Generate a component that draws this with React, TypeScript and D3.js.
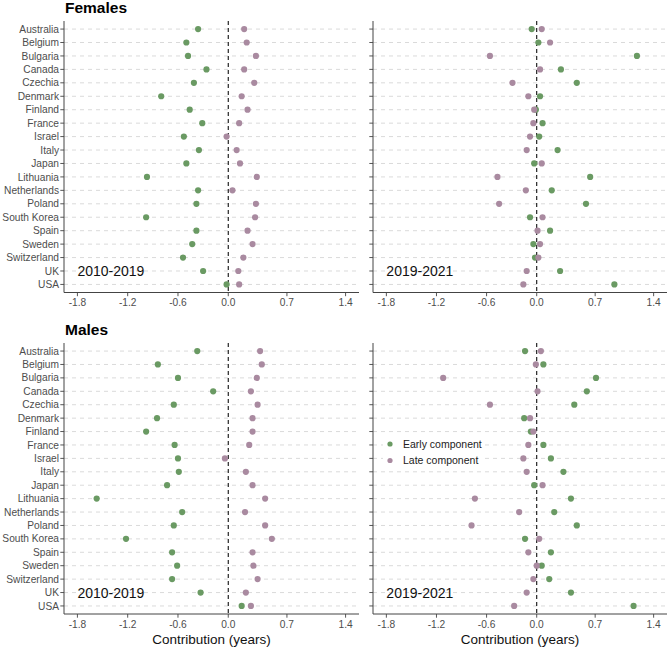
import React from 'react';
import * as d3 from 'd3';

const countries = [
  'Australia', 'Belgium', 'Bulgaria', 'Canada', 'Czechia', 'Denmark', 'Finland',
  'France', 'Israel', 'Italy', 'Japan', 'Lithuania', 'Netherlands', 'Poland',
  'South Korea', 'Spain', 'Sweden', 'Switzerland', 'UK', 'USA',
];

const xTicks = [-1.8, -1.2, -0.6, 0.0, 0.7, 1.4];
const xLimits: [number, number] = [-1.8, 1.4];

// Females
const femEarly1019 = [-0.36, -0.50, -0.48, -0.26, -0.41, -0.80, -0.46, -0.31, -0.53, -0.35, -0.50, -0.97, -0.36, -0.38, -0.98, -0.38, -0.43, -0.54, -0.30, -0.02];
const femLate1019 = [0.19, 0.22, 0.33, 0.19, 0.31, 0.16, 0.23, 0.13, -0.02, 0.10, 0.14, 0.34, 0.05, 0.33, 0.32, 0.23, 0.29, 0.18, 0.12, 0.13];
const femEarly1921 = [-0.06, 0.02, 1.20, 0.29, 0.48, 0.04, -0.01, 0.07, 0.03, 0.25, -0.03, 0.64, 0.18, 0.59, -0.08, 0.16, -0.04, -0.02, 0.28, 0.93];
const femLate1921 = [0.06, 0.16, -0.56, 0.04, -0.29, -0.10, -0.03, -0.04, -0.08, -0.12, 0.06, -0.47, -0.13, -0.45, 0.07, 0.01, 0.04, 0.02, -0.12, -0.16];

// Males
const maleEarly1019 = [-0.37, -0.84, -0.60, -0.18, -0.65, -0.85, -0.98, -0.64, -0.60, -0.59, -0.73, -1.57, -0.55, -0.65, -1.22, -0.67, -0.61, -0.67, -0.33, 0.16];
const maleLate1019 = [0.38, 0.40, 0.34, 0.27, 0.35, 0.29, 0.29, 0.25, -0.04, 0.21, 0.29, 0.44, 0.20, 0.44, 0.52, 0.29, 0.30, 0.35, 0.21, 0.27];
const maleEarly1921 = [-0.14, 0.08, 0.71, 0.60, 0.45, -0.15, -0.07, 0.08, 0.17, 0.32, -0.03, 0.41, 0.21, 0.48, -0.14, 0.17, 0.06, 0.15, 0.41, 1.16];
const maleLate1921 = [0.05, -0.01, -1.12, 0.01, -0.56, -0.08, -0.04, -0.10, -0.16, -0.12, 0.07, -0.74, -0.21, -0.78, 0.03, -0.10, 0.00, -0.04, -0.12, -0.27];

const GREEN = '#6a9a63';
const PURPLE = '#a98aa0';
const FONT = 'Liberation Sans, Arial, Helvetica, sans-serif';

interface PanelProps {
  x0: number; x1: number; y0: number; y1: number;
  early: number[]; late: number[];
  showLabels: boolean; period: string;
  legend?: boolean; xTitle?: boolean;
}

const Panel: React.FC<PanelProps> = ({ x0, x1, y0, y1, early, late, showLabels, period, legend, xTitle }) => {
  const pad = (xLimits[1] - xLimits[0]) * 0.05;
  const x = d3.scaleLinear().domain([xLimits[0] - pad, xLimits[1] + pad]).range([x0, x1]);
  const y = d3.scalePoint<string>().domain(countries).range([y0, y1]).padding(0.6);

  return (
    <g>
      {/* grid rows */}
      {countries.map(c => (
        <line key={'g' + c} x1={x0} x2={x1} y1={y(c)} y2={y(c)}
          stroke="#d6d6d6" strokeWidth={0.9} strokeDasharray="4,4" />
      ))}
      <line x1={x(0)} x2={x(0)} y1={y0} y2={y1} stroke="#111" strokeWidth={1.1} strokeDasharray="4,3" />
      {countries.map((c, i) => (
        <circle key={'e' + c} cx={x(early[i])} cy={y(c)} r={3.1} fill={GREEN} />
      ))}
      {countries.map((c, i) => (
        <circle key={'l' + c} cx={x(late[i])} cy={y(c)} r={3.1} fill={PURPLE} />
      ))}

      {/* axes */}
      <line x1={x0} x2={x0} y1={y0} y2={y1} stroke="#444" strokeWidth={1} />
      <line x1={x0} x2={x1} y1={y1} y2={y1} stroke="#444" strokeWidth={1} />
      {countries.map(c => (
        <g key={'t' + c}>
          <line x1={x0 - 3.7} x2={x0} y1={y(c)} y2={y(c)} stroke="#444" strokeWidth={0.9} />
          {showLabels && (
            <text x={x0 - 5} y={(y(c) ?? 0) + 3.6} textAnchor="end" fontSize={10.2} fill="#4d4d4d" fontFamily={FONT}>{c}</text>
          )}
        </g>
      ))}
      {xTicks.map(t => (
        <g key={'x' + t}>
          <line x1={x(t)} x2={x(t)} y1={y1} y2={y1 + 3.7} stroke="#444" strokeWidth={0.9} />
          <text x={x(t)} y={y1 + 13.5} textAnchor="middle" fontSize={10.2} fill="#4d4d4d" fontFamily={FONT}>{t.toFixed(1)}</text>
        </g>
      ))}

      <text x={x(-1.8)} y={(y('UK') ?? 0) + 5.5} fontSize={14} fill="#111" fontFamily={FONT}>{period}</text>

      {xTitle && (
        <text x={(x0 + x1) / 2} y={y1 + 30} textAnchor="middle" fontSize={13.5} fill="#111" fontFamily={FONT}>Contribution (years)</text>
      )}

      {legend && (
        <g transform={`translate(${x0 + 10},${y0 + 93})`}>
          <rect x={0} y={0} width={102} height={32} fill="#fff" />
          <circle cx={7} cy={8} r={2.6} fill={GREEN} />
          <circle cx={7} cy={24.5} r={2.6} fill={PURPLE} />
          <text x={20} y={11.8} fontSize={10.5} fill="#222" fontFamily={FONT}>Early component</text>
          <text x={20} y={28.3} fontSize={10.5} fill="#222" fontFamily={FONT}>Late component</text>
        </g>
      )}
    </g>
  );
};

export default function App() {
  const W = 670, H = 647;
  return (
    <div style={{ position: 'absolute', left: 0, top: 0 }}>
      <svg width={W} height={H} style={{ display: 'block', background: '#fff' }}>
        <text x={65} y={13} fontSize={15.5} fontWeight="bold" fill="#000" fontFamily={FONT}>Females</text>
        <Panel x0={64} x1={359} y0={21} y1={292.5} early={femEarly1019} late={femLate1019} showLabels period="2010-2019" />
        <Panel x0={373} x1={667} y0={21} y1={292.5} early={femEarly1921} late={femLate1921} showLabels={false} period="2019-2021" />

        <text x={65} y={335} fontSize={15.5} fontWeight="bold" fill="#000" fontFamily={FONT}>Males</text>
        <Panel x0={64} x1={359} y0={343} y1={614} early={maleEarly1019} late={maleLate1019} showLabels period="2010-2019" xTitle />
        <Panel x0={373} x1={667} y0={343} y1={614} early={maleEarly1921} late={maleLate1921} showLabels={false} period="2019-2021" xTitle legend />
      </svg>
    </div>
  );
}
